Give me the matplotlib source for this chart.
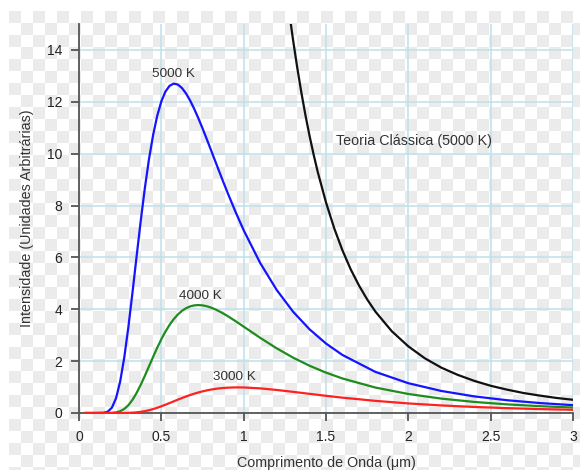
import numpy as np
import matplotlib
matplotlib.use("Agg")
import matplotlib.pyplot as plt

# wavelength (um) and intensity
wavelength = [0.04, 0.10, 0.15, 0.175, 0.20, 0.225, 0.25, 0.275, 0.30, 0.325,
              0.35, 0.375, 0.40, 0.425, 0.45, 0.475, 0.50, 0.525, 0.55, 0.575,
              0.60, 0.625, 0.65, 0.675, 0.70, 0.725, 0.75, 0.775, 0.80, 0.825,
              0.85, 0.875, 0.90, 0.95, 1.00, 1.10, 1.20, 1.30, 1.40, 1.50,
              1.60, 1.80, 2.00, 2.20, 2.40, 2.60, 2.80, 3.00]
i5000 = [0.0, 0.0, 0.007, 0.052, 0.208, 0.572, 1.214, 2.145, 3.321, 4.656,
         6.050, 7.415, 8.677, 9.788, 10.719, 11.460, 12.015, 12.395, 12.617, 12.700,
         12.666, 12.533, 12.321, 12.047, 11.723, 11.363, 10.978, 10.576, 10.165, 9.750,
         9.338, 8.930, 8.530, 7.764, 7.048, 5.788, 4.750, 3.907, 3.227, 2.679,
         2.237, 1.585, 1.149, 0.850, 0.641, 0.492, 0.383, 0.302]
i4000 = [0.0, 0.0, 0.0, 0.001, 0.006, 0.023, 0.068, 0.157, 0.302, 0.509,
         0.775, 1.088, 1.435, 1.799, 2.164, 2.516, 2.843, 3.139, 3.398, 3.617,
         3.796, 3.937, 4.041, 4.111, 4.150, 4.162, 4.150, 4.118, 4.068, 4.004,
         3.927, 3.841, 3.748, 3.545, 3.331, 2.900, 2.496, 2.135, 1.823, 1.557,
         1.331, 0.981, 0.733, 0.555, 0.427, 0.333, 0.263, 0.210]
i3000 = [0.0, 0.0, 0.0, 0.0, 0.0, 0.0, 0.001, 0.002, 0.006, 0.013,
         0.025, 0.045, 0.072, 0.107, 0.151, 0.202, 0.258, 0.320, 0.384, 0.449,
         0.514, 0.577, 0.637, 0.693, 0.745, 0.792, 0.834, 0.870, 0.901, 0.927,
         0.948, 0.964, 0.976, 0.987, 0.985, 0.950, 0.889, 0.816, 0.739, 0.663,
         0.592, 0.468, 0.369, 0.292, 0.233, 0.187, 0.151, 0.123]

# classical (Rayleigh-Jeans) curve, 5000 K
wl_classic = [1.25, 1.28, 1.30, 1.325, 1.35, 1.375, 1.40, 1.425, 1.45, 1.50,
              1.55, 1.60, 1.65, 1.70, 1.75, 1.80, 1.90, 2.00, 2.10, 2.20,
              2.30, 2.40, 2.50, 2.60, 2.70, 2.80, 2.90, 3.00]
i_classic = [16.83, 15.30, 14.38, 13.33, 12.37, 11.49, 10.69, 9.96, 9.29, 8.12,
             7.12, 6.27, 5.54, 4.92, 4.38, 3.91, 3.15, 2.57, 2.11, 1.75,
             1.47, 1.24, 1.05, 0.90, 0.77, 0.67, 0.58, 0.51]

xticks = [0, 0.5, 1, 1.5, 2, 2.5, 3]
xticklabels = ["0", "0.5", "1", "1.5", "2", "2.5", "3"]
yticks = [0, 2, 4, 6, 8, 10, 12, 14]

plt.rcParams["font.family"] = ["Liberation Sans", "DejaVu Sans"]

W, H = 580, 470
fig = plt.figure(figsize=(W / 100, H / 100), dpi=100)

# checkerboard (transparent background look)
bg = np.ones((H, W, 3))
sq = 12
for r in range(H):
    for c in range(W):
        if r >= 11 and c >= 9:
            if ((r - 11) // sq + (c - 9) // sq) % 2 == 0:
                bg[r, c] = 0.925
fig.figimage(bg, xo=0, yo=0, origin="upper", zorder=-10)

ax = fig.add_axes([79 / W, 57 / H, 494 / W, 389 / H])
ax.set_facecolor("none")

ax.plot(wavelength, i5000, color="#1414ff", lw=1.6, zorder=3)
ax.plot(wavelength, i4000, color="#1e8c1e", lw=1.6, zorder=3)
ax.plot(wavelength, i3000, color="#ff2020", lw=1.6, zorder=3)
ax.plot(wl_classic, i_classic, color="#111111", lw=1.6, zorder=3)

ax.set_xlim(0, 3)
ax.set_ylim(0, 15)
ax.set_xticks(xticks)
ax.set_xticklabels(xticklabels)
ax.set_yticks(yticks)

ax.grid(True, color="#bfe0ec", lw=1.1, zorder=1)
ax.set_axisbelow(True)

for s in ["top", "right"]:
    ax.spines[s].set_visible(False)
for s in ["left", "bottom"]:
    ax.spines[s].set_color("#555555")
    ax.spines[s].set_linewidth(1.3)

ax.tick_params(direction="out", length=6, width=1.3, color="#555555",
               labelsize=10, labelcolor="#222222", pad=6)

ax.set_xlabel("Comprimento de Onda (μm)", fontsize=10.3, color="#333333")
ax.set_ylabel("Intensidade (Unidades Arbitrárias)", fontsize=10.3, color="#333333")
ax.xaxis.set_label_coords(0.5, -0.11)
ax.yaxis.set_label_coords(-0.092, 0.5)

ax.text(0.571, 13.08, "5000 K", ha="center", va="center", fontsize=9.7, color="#333333")
ax.text(0.735, 4.5, "4000 K", ha="center", va="center", fontsize=9.7, color="#333333")
ax.text(0.941, 1.38, "3000 K", ha="center", va="center", fontsize=9.7, color="#333333")
ax.text(1.56, 10.5, "Teoria Clássica (5000 K)", ha="left", va="center",
        fontsize=10.3, color="#333333")

fig.savefig("out.png", dpi=100)
